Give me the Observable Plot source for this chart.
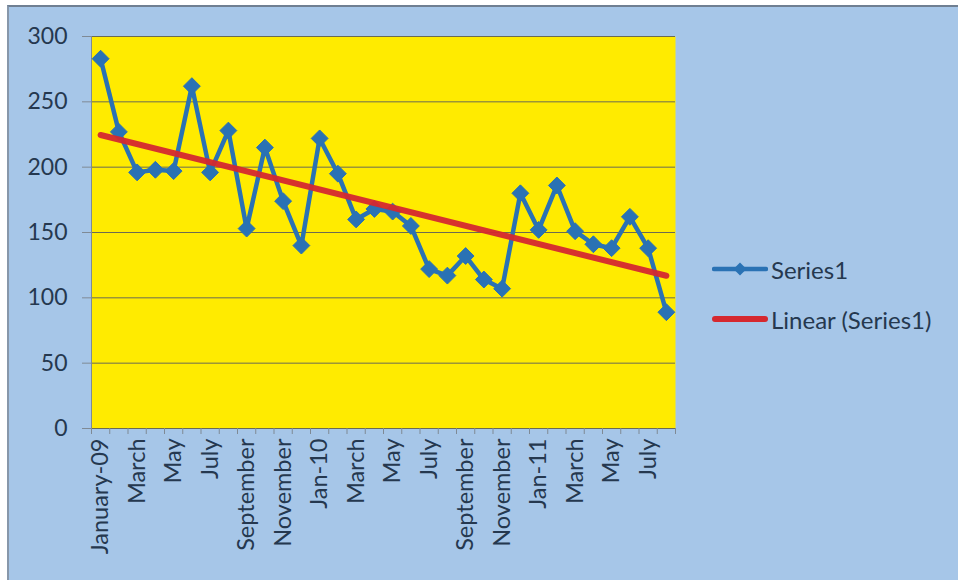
<!DOCTYPE html>
<html>
<head>
<meta charset="utf-8">
<script src="https://cdn.jsdelivr.net/npm/d3@7"></script>
<script src="https://cdn.jsdelivr.net/npm/@observablehq/plot@0.6"></script>
<style>
  html, body { margin: 0; padding: 0; background: #ffffff; }
  #wrap { position: relative; width: 958px; height: 580px; overflow: hidden; font-family: Lato, "Open Sans", sans-serif; }
  #panel { position: absolute; left: 7px; top: 5px; right: 0; bottom: 0; background: #a6c6e8;
           border-top: 2px solid #6f7f92; border-left: 2px solid #8797aa; }
  #chart { position: absolute; left: 0; top: 0; }
  #legend { position: absolute; left: 712px; top: 244px; color: #25384f; font-size: 24px; }
  .item { display: flex; align-items: center; height: 50px; }
  .item svg { margin-right: 3px; }
</style>
</head>
<body>
<div id="wrap">
  <div id="panel"></div>
  <div id="chart"></div>
  <div id="legend">
    <div class="item">
      <svg width="56" height="20"><line x1="2" x2="54" y1="10" y2="10" stroke="#2a72b4" stroke-width="4.5" stroke-linecap="round"/><path d="M28 3.5 L34.5 10 L28 16.5 L21.5 10 Z" fill="#2a72b4"/></svg>
      <span>Series1</span>
    </div>
    <div class="item">
      <svg width="56" height="20"><line x1="3" x2="53" y1="10" y2="10" stroke="#d5282f" stroke-width="6" stroke-linecap="round"/></svg>
      <span>Linear (Series1)</span>
    </div>
  </div>
</div>
<script>
// Monthly readings, January 2009 to August 2011
const months = [
  "January-09", "February", "March", "April", "May", "June", "July", "August",
  "September", "October", "November", "December",
  "Jan-10", "February", "March", "April", "May", "June", "July", "August",
  "September", "October", "November", "December",
  "Jan-11", "February", "March", "April", "May", "June", "July", "August"
];
const values = [
  283, 227, 196, 198, 197, 262, 196, 228, 153, 215, 174, 140,
  222, 195, 160, 168, 166, 155, 122, 117, 132, 114, 107, 180,
  152, 186, 151, 141, 138, 162, 138, 89
];
// Only every other month gets a label on the axis
const shownLabels = months.map((m, i) => (i % 2 === 0 ? m : ""));
const yTicks = [0, 50, 100, 150, 200, 250, 300];

const data = values.map((v, i) => ({ pos: i + 0.5, value: v, month: months[i] }));

const ink = "#25384f";
const grid = "#6b6b52";

const chart = Plot.plot({
  width: 958,
  height: 580,
  marginLeft: 91,
  marginRight: 283,
  marginTop: 36,
  marginBottom: 152,
  style: { background: "transparent", fontFamily: "Lato, 'Open Sans', sans-serif", color: ink },
  x: { type: "linear", domain: [0, months.length] },
  y: { domain: [0, 300] },
  marks: [
    Plot.frame({ fill: "#ffeb00", stroke: null }),
    Plot.ruleY(yTicks, { stroke: grid, strokeWidth: 1 }),
    Plot.ruleX([0], { stroke: "#7f8a95", strokeWidth: 1 }),
    Plot.axisY({ ticks: yTicks, tickSize: 9, tickPadding: 15, stroke: "#7f8a95", fontSize: 23, fill: ink, label: null }),
    // boundary tick marks between months
    Plot.axisX({ ticks: d3.range(0, months.length + 1), tickSize: 6, tickFormat: () => "", stroke: "#7f8a95", label: null }),
    Plot.axisX({
      ticks: d3.range(0, months.length).map(i => i + 0.5),
      tickFormat: (d) => shownLabels[Math.floor(d)],
      tickSize: 0, tickPadding: 10, tickRotate: -90, fontSize: 23.5, fill: ink, label: null
    }),
    Plot.lineY(data, { x: "pos", y: "value", stroke: "#2a72b4", strokeWidth: 4.5 }),
    Plot.dot(data, { x: "pos", y: "value", symbol: "diamond2", r: 7.6, fill: "#2a72b4", stroke: "#2a72b4", strokeWidth: 1 }),
    Plot.linearRegressionY(data, { x: "pos", y: "value", stroke: "#d5282f", strokeWidth: 6, ci: 0, strokeOpacity: 0.95 })
  ]
});
document.getElementById("chart").appendChild(chart);
</script>
</body>
</html>
